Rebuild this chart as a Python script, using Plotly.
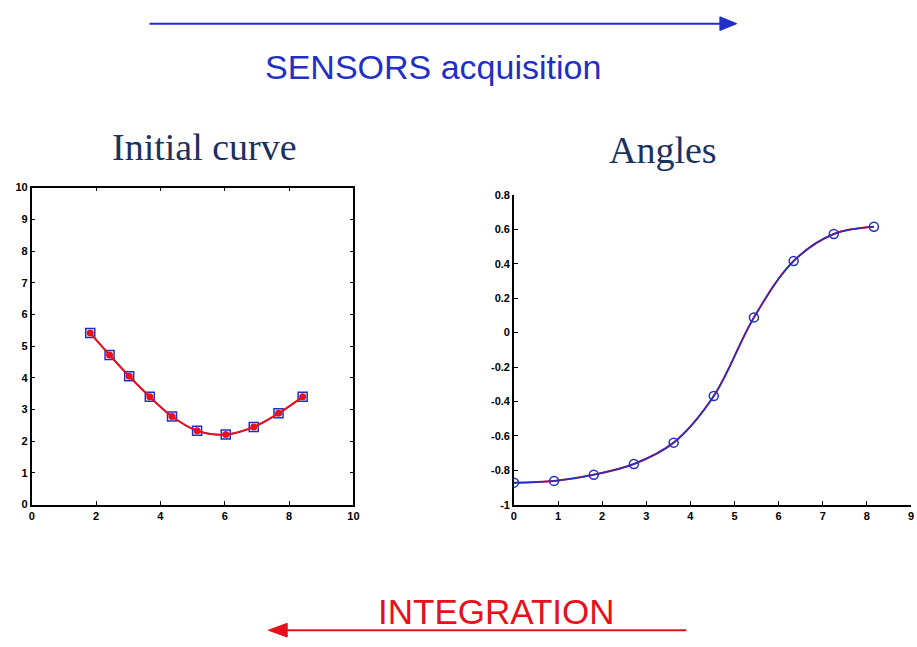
import plotly.graph_objects as go

# Initial curve: sampled points (x, y)
curve_x = [1.82, 2.42, 3.03, 3.67, 4.36, 5.14, 6.03, 6.90, 7.67, 8.42]
curve_y = [5.41, 4.72, 4.05, 3.40, 2.78, 2.33, 2.21, 2.45, 2.88, 3.40]

# Angles along the curve (arc length, angle)
angle_s = [0.0, 0.91, 1.81, 2.72, 3.62, 4.53, 5.44, 6.34, 7.25, 8.16]
angle_v = [-0.871, -0.861, -0.825, -0.763, -0.639, -0.368, 0.088, 0.415, 0.572, 0.614]

left_xticks = [0, 2, 4, 6, 8, 10]
left_yticks = list(range(0, 11))
right_xticks = list(range(0, 10))
right_yticks = [-1, -0.8, -0.6, -0.4, -0.2, 0, 0.2, 0.4, 0.6, 0.8]
right_ytext = ["-1", "-0.8", "-0.6", "-0.4", "-0.2", "0", "0.2", "0.4", "0.6", "0.8"]

BLUE = "#1f2fc8"
RED = "#e8101c"
NAVY = "#1b3160"

fig = go.Figure()

# Left panel: initial curve
fig.add_trace(go.Scatter(
    x=curve_x, y=curve_y, mode="lines+markers", line=dict(color=BLUE, width=1.5, shape="spline"),
    marker=dict(symbol="square-open", size=9, color=BLUE, line=dict(width=1.5)),
    xaxis="x", yaxis="y", showlegend=False))
fig.add_trace(go.Scatter(
    x=curve_x, y=curve_y, mode="lines+markers", line=dict(color=RED, width=2, shape="spline"),
    marker=dict(symbol="circle", size=7, color=RED),
    xaxis="x", yaxis="y", showlegend=False))

# Right panel: angles
fig.add_trace(go.Scatter(
    x=angle_s, y=angle_v, mode="lines", line=dict(color=RED, width=2, shape="spline"),
    xaxis="x2", yaxis="y2", showlegend=False))
fig.add_trace(go.Scatter(
    x=angle_s, y=angle_v, mode="lines+markers", line=dict(color=BLUE, width=1.5, shape="spline"),
    marker=dict(symbol="circle-open", size=9, color=BLUE, line=dict(width=1.5)),
    xaxis="x2", yaxis="y2", showlegend=False))

tickfont = dict(family="Liberation Sans", size=11, color="black", weight="bold")
common = dict(showgrid=False, zeroline=False, linecolor="black", linewidth=1.5,
              ticks="inside", ticklen=4, tickcolor="black", tickfont=tickfont)

fig.update_layout(
    width=917, height=647,
    margin=dict(l=0, r=0, t=0, b=0),
    paper_bgcolor="white", plot_bgcolor="white",
    xaxis=dict(domain=[0.0316, 0.386], range=[0, 10], tickvals=left_xticks,
               mirror="ticks", anchor="y", **common),
    yaxis=dict(domain=[0.2148, 0.714], range=[0, 10], tickvals=left_yticks,
               mirror="ticks", anchor="x", **common),
    xaxis2=dict(domain=[0.5627, 1.0], range=[0, 9], tickvals=right_xticks,
                anchor="y2", **common),
    yaxis2=dict(domain=[0.2144, 0.7028], range=[-1, 0.8], tickvals=right_yticks,
                ticktext=right_ytext, anchor="x2", **common),
)

def px(xp):
    return xp / 917

def py(yp):
    return 1 - yp / 647

annotations = [
    dict(text="Initial curve", x=px(203), y=py(144), font=dict(family="Liberation Serif", size=38, color=NAVY)),
    dict(text="Angles", x=px(667), y=py(147), font=dict(family="Liberation Serif", size=38, color=NAVY)),
    dict(text="SENSORS acquisition", x=px(434), y=py(62), font=dict(family="Liberation Sans", size=34, color=BLUE)),
    dict(text="INTEGRATION", x=px(498), y=py(617), font=dict(family="Liberation Sans", size=35, color=RED)),
]
for a in annotations:
    a.update(xref="paper", yref="paper", showarrow=False, xanchor="center", yanchor="middle")
fig.update_layout(annotations=annotations)

# Direction arrows
shapes = [
    dict(type="line", xref="paper", yref="paper", x0=px(148), y0=py(18), x1=px(728), y1=py(18),
         line=dict(color=BLUE, width=2)),
    dict(type="path", xref="paper", yref="paper",
         path=f"M {px(741)} {py(18)} L {px(724)} {py(11)} L {px(724)} {py(25)} Z",
         fillcolor=BLUE, line=dict(color=BLUE, width=1)),
    dict(type="line", xref="paper", yref="paper", x0=px(284), y0=py(636), x1=px(690), y1=py(636),
         line=dict(color=RED, width=2)),
    dict(type="path", xref="paper", yref="paper",
         path=f"M {px(268)} {py(636)} L {px(287)} {py(629)} L {px(287)} {py(643)} Z",
         fillcolor=RED, line=dict(color=RED, width=1)),
]
fig.update_layout(shapes=shapes)

fig.write_html("out.html")
